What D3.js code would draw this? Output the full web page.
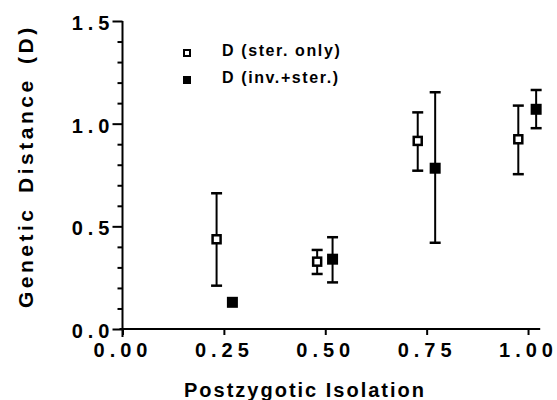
<!DOCTYPE html>
<html>
<head>
<meta charset="utf-8">
<script src="https://cdn.jsdelivr.net/npm/d3@7"></script>
<style>
  html, body { margin: 0; padding: 0; background: #fff; }
  svg { display: block; }
  text { font-family: "Liberation Sans", Arial, Helvetica, sans-serif; font-weight: bold; fill: #000; }
</style>
</head>
<body>
<svg id="chart" width="557" height="400"></svg>
<script>
// ---- data ----
const xTickValues = [0, 0.25, 0.5, 0.75, 1.0];
const xTickLabels = ["0.00", "0.25", "0.50", "0.75", "1.00"];
const yMajorValues = [0, 0.5, 1.0, 1.5];
const yMajorLabels = ["0.0", "0.5", "1.0", "1.5"];
const yMinorValues = [0.1, 0.2, 0.3, 0.4, 0.6, 0.7, 0.8, 0.9, 1.1, 1.2, 1.3, 1.4];

const seriesNames = ["D (ster. only)", "D (inv.+ster.)"];

const sterX  = [0.232, 0.480, 0.728, 0.976];
const sterY  = [0.437, 0.328, 0.916, 0.924];
const sterLo = [0.211, 0.268, 0.771, 0.754];
const sterHi = [0.661, 0.385, 1.055, 1.088];

const invX  = [0.271, 0.518, 0.771, 1.020];
const invY  = [0.130, 0.340, 0.783, 1.070];
const invLo = [null, 0.227, 0.420, 0.978];
const invHi = [null, 0.447, 1.153, 1.164];

const xTitle = "Postzygotic Isolation";
const yTitleWords = ["Genetic", "Distance", "(D)"];

// ---- layout ----
const svg = d3.select("#chart");
const x = d3.scaleLinear().domain([0, 1.03]).range([122.5, 540.2]);
const y = d3.scaleLinear().domain([0, 1.5]).range([329, 21]);

const g = svg.append("g");

// axis lines
g.append("line")
  .attr("x1", x(0) - 3).attr("x2", x(1.03))
  .attr("y1", y(0)).attr("y2", y(0))
  .attr("stroke", "#000").attr("stroke-width", 2);
g.append("line")
  .attr("x1", x(0)).attr("x2", x(0))
  .attr("y1", y(1.5)).attr("y2", y(0) + 8)
  .attr("stroke", "#000").attr("stroke-width", 2);

// x axis ticks & labels
const xAxis = d3.axisBottom(x)
  .tickValues(xTickValues)
  .tickSize(6)
  .tickSizeOuter(0)
  .tickFormat((d, i) => xTickLabels[i]);
const gx = g.append("g").attr("transform", `translate(0,${y(0)})`).call(xAxis);
gx.select(".domain").remove();
gx.selectAll(".tick line").attr("stroke", "#000").attr("stroke-width", 2);
gx.selectAll(".tick text")
  .attr("y", 28).attr("dy", null)
  .style("font-size", "20px")
  .style("letter-spacing", "5px")
  .style("font-family", "'Liberation Sans', Arial, sans-serif")
  .style("font-weight", "bold");

// y axis: minor ticks
const yMinor = d3.axisLeft(y).tickValues(yMinorValues).tickSize(5).tickSizeOuter(0).tickFormat("");
const gyMinor = g.append("g").attr("transform", `translate(${x(0)},0)`).call(yMinor);
gyMinor.select(".domain").remove();
gyMinor.selectAll(".tick line").attr("stroke", "#000").attr("stroke-width", 2);

// y axis: major ticks with labels
const yMajor = d3.axisLeft(y).tickValues(yMajorValues).tickSize(10).tickSizeOuter(0)
  .tickFormat((d, i) => yMajorLabels[i]);
const gy = g.append("g").attr("transform", `translate(${x(0)},0)`).call(yMajor);
gy.select(".domain").remove();
gy.selectAll(".tick line").attr("stroke", "#000").attr("stroke-width", 2);
gy.selectAll(".tick text")
  .attr("x", -8).attr("dy", "8.5")
  .style("font-size", "20px")
  .style("letter-spacing", "5px")
  .style("font-family", "'Liberation Sans', Arial, sans-serif")
  .style("font-weight", "bold");

// axis titles
g.append("text")
  .attr("x", 305).attr("y", 397)
  .attr("text-anchor", "middle")
  .style("font-size", "20px")
  .style("letter-spacing", "2px")
  .text(xTitle);

const yt = g.append("text")
  .attr("transform", "translate(32.5,308) rotate(-90)")
  .attr("text-anchor", "start")
  .style("font-size", "21px")
  .style("letter-spacing", "3.5px");
const yGaps = [0, 13.5, 13.5];
yTitleWords.forEach((w, i) => {
  yt.append("tspan").attr("dx", yGaps[i]).text(w);
});

// error bars
function drawErrors(xs, ys, lo, hi) {
  const idx = d3.range(xs.length).filter(i => lo[i] != null && hi[i] != null);
  const eg = g.append("g");
  eg.append("g").selectAll("line").data(idx).join("line")
    .attr("x1", i => x(xs[i])).attr("x2", i => x(xs[i]))
    .attr("y1", i => y(hi[i])).attr("y2", i => y(lo[i]))
    .attr("stroke", "#000").attr("stroke-width", 2);
  eg.append("g").selectAll("line").data(idx).join("line")
    .attr("x1", i => x(xs[i]) - 5.5).attr("x2", i => x(xs[i]) + 5.5)
    .attr("y1", i => y(hi[i])).attr("y2", i => y(hi[i]))
    .attr("stroke", "#000").attr("stroke-width", 2.5);
  eg.append("g").selectAll("line").data(idx).join("line")
    .attr("x1", i => x(xs[i]) - 5.5).attr("x2", i => x(xs[i]) + 5.5)
    .attr("y1", i => y(lo[i])).attr("y2", i => y(lo[i]))
    .attr("stroke", "#000").attr("stroke-width", 2.5);
}
drawErrors(sterX, sterY, sterLo, sterHi);
drawErrors(invX, invY, invLo, invHi);

// markers
g.append("g").selectAll("rect").data(d3.range(sterX.length)).join("rect")
  .attr("x", i => x(sterX[i]) - 4).attr("y", i => y(sterY[i]) - 4)
  .attr("width", 8).attr("height", 8)
  .attr("fill", "#fff").attr("stroke", "#000").attr("stroke-width", 2.5);
g.append("g").selectAll("rect").data(d3.range(invX.length)).join("rect")
  .attr("x", i => x(invX[i]) - 5.5).attr("y", i => y(invY[i]) - 5.5)
  .attr("width", 11).attr("height", 11)
  .attr("fill", "#000");

// legend
const legend = g.append("g");
const legendRows = [
  { name: seriesNames[0], filled: false, base: 56 },
  { name: seriesNames[1], filled: true, base: 83 }
];
legendRows.forEach(r => {
  if (r.filled) {
    legend.append("rect").attr("x", 183).attr("y", r.base - 7).attr("width", 8).attr("height", 8).attr("fill", "#000");
  } else {
    legend.append("rect").attr("x", 184).attr("y", r.base - 6).attr("width", 6).attr("height", 6)
      .attr("fill", "#fff").attr("stroke", "#000").attr("stroke-width", 2);
  }
  legend.append("text").attr("x", 222).attr("y", r.base)
    .style("font-size", "16px").style("letter-spacing", "1.6px")
    .text(r.name);
});
</script>
</body>
</html>
